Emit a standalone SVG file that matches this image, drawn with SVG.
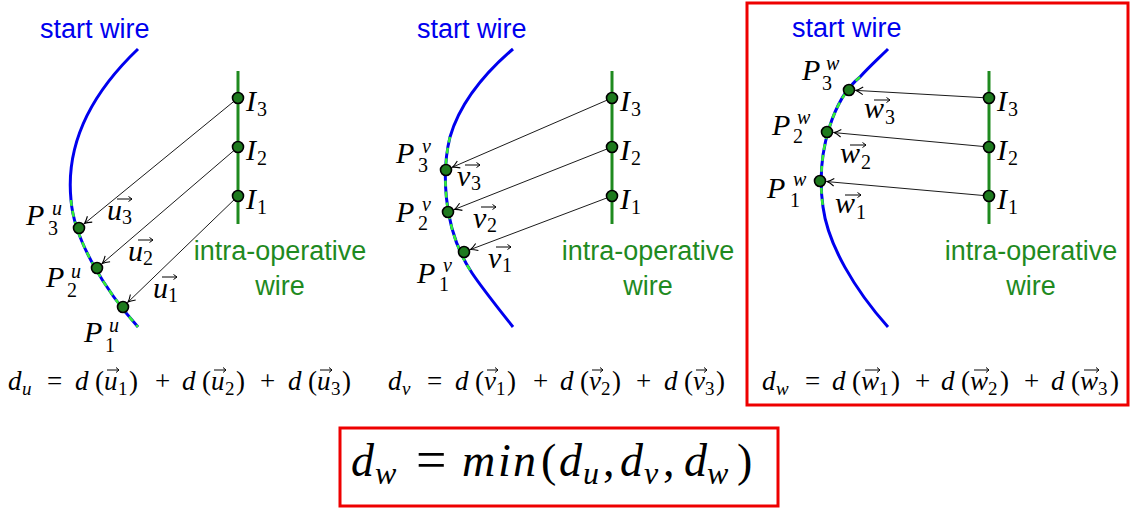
<svg xmlns="http://www.w3.org/2000/svg" width="1139" height="508" viewBox="0 0 1139 508">
<defs>
<marker id="ah" viewBox="-8 -5 10 10" refX="0" refY="0" markerWidth="10" markerHeight="10" markerUnits="userSpaceOnUse" orient="auto">
<path d="M-7,-3.8 Q-2.5,-0.7 0,0 Q-2.5,0.7 -7,3.8" fill="none" stroke="#000" stroke-width="1.1"/>
</marker>
</defs>
<style>
.sw{font-family:"Liberation Sans",Arial,sans-serif;font-size:27px;fill:#0000ee}
.iw{font-family:"Liberation Sans",Arial,sans-serif;font-size:27px;fill:#1f8a1f;text-anchor:middle}
.m{font-family:"Liberation Serif","Times New Roman",serif;font-style:italic;font-size:30px;fill:#000}
.f{font-family:"Liberation Serif","Times New Roman",serif;font-style:italic;font-size:27px;fill:#000}
.big{font-family:"Liberation Serif","Times New Roman",serif;font-style:italic;font-size:46px;fill:#000}
.r{font-style:normal}
.s{font-size:20px}
.s2{font-size:19px}
.s3{font-size:32px}
.eq{font-size:54px}
.blue{fill:none;stroke:#0000ee;stroke-width:3}
.dash{fill:none;stroke:#33ee33;stroke-width:2.6;stroke-dasharray:6 5}
.gw{stroke:#1f8a1f;stroke-width:3}
.pt{fill:#1e7a1e;stroke:#000;stroke-width:1.6}
.con{stroke:#000;stroke-width:0.9;fill:none;marker-end:url(#ah)}
.va{stroke:#000;stroke-width:1;fill:none}
.box{fill:none;stroke:#ee0000;stroke-width:3}
</style>
<rect width="1139" height="508" fill="#fff"/>

<g id="panel-u-wires">
<path class="blue" d="M138,49 C95,90 65,140 71,200 C74,240 105,290 138,327"/>
<path class="dash" d="M71,200 C74,240 105,290 138,327"/>
<line class="gw" x1="238" y1="71" x2="238" y2="224"/>
<text class="sw" x="40" y="38">start wire</text>
<text class="iw" x="280" y="260">intra-operative</text>
<text class="iw" x="280" y="295">wire</text>
</g>
<g id="panel-v-wires">
<path class="blue" d="M513,49 C485,73 460,103 450,137 C443,165 440,225 472,273 C482,288 498,308 513,327"/>
<path class="dash" d="M450,137 C443,165 440,225 472,273"/>
<line class="gw" x1="612" y1="71" x2="612" y2="224"/>
<text class="sw" x="417" y="38">start wire</text>
<text class="iw" x="648" y="260">intra-operative</text>
<text class="iw" x="648" y="295">wire</text>
</g>
<g id="panel-w-wires">
<path class="blue" d="M888,49 C879,58 869,67 860,77 C835,97 815,150 823,207 C828,245 855,290 888,327"/>
<path class="dash" d="M860,77 C835,97 815,150 823,207"/>
<line class="gw" x1="989" y1="71" x2="989" y2="224"/>
<text class="sw" x="792" y="37">start wire</text>
<text class="iw" x="1031" y="260">intra-operative</text>
<text class="iw" x="1031" y="295">wire</text>
</g>

<g id="connectors">
<line class="con" x1="238" y1="98" x2="84.4" y2="223.6"/>
<line class="con" x1="238" y1="147" x2="102.3" y2="263.4"/>
<line class="con" x1="238" y1="196" x2="128" y2="302.1"/>
<line class="con" x1="612" y1="98" x2="452.4" y2="167.2"/>
<line class="con" x1="612" y1="147" x2="454.5" y2="209.4"/>
<line class="con" x1="612" y1="196" x2="470.5" y2="249.5"/>
<line class="con" x1="989" y1="98" x2="856" y2="90.4"/>
<line class="con" x1="989" y1="147" x2="834" y2="132.6"/>
<line class="con" x1="989" y1="196" x2="827" y2="181.6"/>
</g>

<g id="u-I3"><circle class="pt" cx="238" cy="98" r="5.5"/><text class="m"><tspan x="246" y="111">I</tspan><tspan class="s r" x="257" y="116">3</tspan></text></g>
<g id="u-I2"><circle class="pt" cx="238" cy="147" r="5.5"/><text class="m"><tspan x="246" y="160">I</tspan><tspan class="s r" x="257" y="165">2</tspan></text></g>
<g id="u-I1"><circle class="pt" cx="238" cy="196" r="5.5"/><text class="m"><tspan x="246" y="209">I</tspan><tspan class="s r" x="257" y="214">1</tspan></text></g>
<g id="u-P3"><circle class="pt" cx="79" cy="228" r="5.5"/><text class="m"><tspan x="26" y="225">P</tspan><tspan class="s" x="52" y="215">u</tspan><tspan class="s r" x="48" y="235">3</tspan></text></g>
<g id="u-P2"><circle class="pt" cx="97" cy="268" r="5.5"/><text class="m"><tspan x="46" y="287">P</tspan><tspan class="s" x="71" y="278">u</tspan><tspan class="s r" x="67" y="297">2</tspan></text></g>
<g id="u-P1"><circle class="pt" cx="123" cy="307" r="5.5"/><text class="m"><tspan x="84" y="342">P</tspan><tspan class="s" x="109" y="332">u</tspan><tspan class="s r" x="105" y="352">1</tspan></text></g>
<g id="u-vec3"><text class="m"><tspan x="107" y="220">u</tspan><tspan class="s r" x="122" y="224">3</tspan></text><path class="va" d="M117,199 H132 M128.5,196.5 L132,199 L128.5,201.5"/></g>
<g id="u-vec2"><text class="m"><tspan x="128" y="261">u</tspan><tspan class="s r" x="143" y="265">2</tspan></text><path class="va" d="M138,240 H153 M149.5,237.5 L153,240 L149.5,242.5"/></g>
<g id="u-vec1"><text class="m"><tspan x="153" y="298">u</tspan><tspan class="s r" x="168" y="302">1</tspan></text><path class="va" d="M162,277 H177 M173.5,274.5 L177,277 L173.5,279.5"/></g>

<g id="v-I3"><circle class="pt" cx="612" cy="98" r="5.5"/><text class="m"><tspan x="620" y="111">I</tspan><tspan class="s r" x="631" y="116">3</tspan></text></g>
<g id="v-I2"><circle class="pt" cx="612" cy="147" r="5.5"/><text class="m"><tspan x="620" y="160">I</tspan><tspan class="s r" x="631" y="165">2</tspan></text></g>
<g id="v-I1"><circle class="pt" cx="612" cy="196" r="5.5"/><text class="m"><tspan x="620" y="209">I</tspan><tspan class="s r" x="631" y="214">1</tspan></text></g>
<g id="v-P3"><circle class="pt" cx="446" cy="170" r="5.5"/><text class="m"><tspan x="396" y="163">P</tspan><tspan class="s" x="422" y="153">v</tspan><tspan class="s r" x="418" y="172">3</tspan></text></g>
<g id="v-P2"><circle class="pt" cx="448" cy="212" r="5.5"/><text class="m"><tspan x="396" y="222">P</tspan><tspan class="s" x="422" y="211">v</tspan><tspan class="s r" x="418" y="230">2</tspan></text></g>
<g id="v-P1"><circle class="pt" cx="464" cy="252" r="5.5"/><text class="m"><tspan x="417" y="283">P</tspan><tspan class="s" x="443" y="272">v</tspan><tspan class="s r" x="439" y="291">1</tspan></text></g>
<g id="v-vec3"><text class="m"><tspan x="457" y="186">v</tspan><tspan class="s r" x="471" y="190">3</tspan></text><path class="va" d="M465,165 H480 M476.5,162.5 L480,165 L476.5,167.5"/></g>
<g id="v-vec2"><text class="m"><tspan x="473" y="228">v</tspan><tspan class="s r" x="487" y="232">2</tspan></text><path class="va" d="M481,207 H496 M492.5,204.5 L496,207 L492.5,209.5"/></g>
<g id="v-vec1"><text class="m"><tspan x="488" y="268">v</tspan><tspan class="s r" x="502" y="272">1</tspan></text><path class="va" d="M496,247 H511 M507.5,244.5 L511,247 L507.5,249.5"/></g>

<g id="w-I3"><circle class="pt" cx="989" cy="98" r="5.5"/><text class="m"><tspan x="997" y="111">I</tspan><tspan class="s r" x="1008" y="116">3</tspan></text></g>
<g id="w-I2"><circle class="pt" cx="989" cy="147" r="5.5"/><text class="m"><tspan x="997" y="160">I</tspan><tspan class="s r" x="1008" y="165">2</tspan></text></g>
<g id="w-I1"><circle class="pt" cx="989" cy="196" r="5.5"/><text class="m"><tspan x="997" y="209">I</tspan><tspan class="s r" x="1008" y="214">1</tspan></text></g>
<g id="w-P3"><circle class="pt" cx="849" cy="90" r="5.5"/><text class="m"><tspan x="802" y="80">P</tspan><tspan class="s" x="826" y="70">w</tspan><tspan class="s r" x="822" y="90">3</tspan></text></g>
<g id="w-P2"><circle class="pt" cx="827" cy="132" r="5.5"/><text class="m"><tspan x="772" y="135">P</tspan><tspan class="s" x="797" y="124">w</tspan><tspan class="s r" x="793" y="143">2</tspan></text></g>
<g id="w-P1"><circle class="pt" cx="820" cy="181" r="5.5"/><text class="m"><tspan x="767" y="198">P</tspan><tspan class="s" x="793" y="186">w</tspan><tspan class="s r" x="790" y="207">1</tspan></text></g>
<g id="w-vec3"><text class="m"><tspan x="864" y="118">w</tspan><tspan class="s r" x="885" y="124">3</tspan></text><path class="va" d="M874,100 H890 M886.5,97.5 L890,100 L886.5,102.5"/></g>
<g id="w-vec2"><text class="m"><tspan x="840" y="163">w</tspan><tspan class="s r" x="861" y="169">2</tspan></text><path class="va" d="M850,145 H866 M862.5,142.5 L866,145 L862.5,147.5"/></g>
<g id="w-vec1"><text class="m"><tspan x="835" y="213">w</tspan><tspan class="s r" x="856" y="219">1</tspan></text><path class="va" d="M845,195 H861 M857.5,192.5 L861,195 L857.5,197.5"/></g>

<g id="formula-u">
<text class="f"><tspan x="8" y="390">d</tspan><tspan class="s2" x="22" y="395">u</tspan><tspan class="r" x="47" y="390">=</tspan><tspan x="75" y="390">d</tspan><tspan class="r" x="95" y="390">(</tspan><tspan x="104" y="390">u</tspan><tspan class="s2 r" x="118" y="395">1</tspan><tspan class="r" x="129" y="390">)</tspan><tspan class="r" x="155" y="390">+</tspan><tspan x="182" y="390">d</tspan><tspan class="r" x="202" y="390">(</tspan><tspan x="211" y="390">u</tspan><tspan class="s2 r" x="225" y="395">2</tspan><tspan class="r" x="236" y="390">)</tspan><tspan class="r" x="260" y="390">+</tspan><tspan x="288" y="390">d</tspan><tspan class="r" x="308" y="390">(</tspan><tspan x="317" y="390">u</tspan><tspan class="s2 r" x="331" y="395">3</tspan><tspan class="r" x="342" y="390">)</tspan></text>
<path class="va" d="M107,370 H119 M116,367.5 L119,370 L116,372.5 M214,370 H226 M223,367.5 L226,370 L223,372.5 M320,370 H332 M329,367.5 L332,370 L329,372.5"/>
</g>
<g id="formula-v">
<text class="f"><tspan x="388" y="390">d</tspan><tspan class="s2" x="402" y="395">v</tspan><tspan class="r" x="427" y="390">=</tspan><tspan x="455" y="390">d</tspan><tspan class="r" x="475" y="390">(</tspan><tspan x="484" y="390">v</tspan><tspan class="s2 r" x="496" y="395">1</tspan><tspan class="r" x="507" y="390">)</tspan><tspan class="r" x="533" y="390">+</tspan><tspan x="560" y="390">d</tspan><tspan class="r" x="580" y="390">(</tspan><tspan x="589" y="390">v</tspan><tspan class="s2 r" x="601" y="395">2</tspan><tspan class="r" x="612" y="390">)</tspan><tspan class="r" x="636" y="390">+</tspan><tspan x="664" y="390">d</tspan><tspan class="r" x="684" y="390">(</tspan><tspan x="693" y="390">v</tspan><tspan class="s2 r" x="705" y="395">3</tspan><tspan class="r" x="716" y="390">)</tspan></text>
<path class="va" d="M487,370 H498 M495,367.5 L498,370 L495,372.5 M592,370 H603 M600,367.5 L603,370 L600,372.5 M696,370 H707 M704,367.5 L707,370 L704,372.5"/>
</g>
<g id="formula-w">
<text class="f"><tspan x="762" y="390">d</tspan><tspan class="s2" x="776" y="395">w</tspan><tspan class="r" x="805" y="390">=</tspan><tspan x="832" y="390">d</tspan><tspan class="r" x="852" y="390">(</tspan><tspan x="861" y="390">w</tspan><tspan class="s2 r" x="879" y="395">1</tspan><tspan class="r" x="891" y="390">)</tspan><tspan class="r" x="915" y="390">+</tspan><tspan x="941" y="390">d</tspan><tspan class="r" x="961" y="390">(</tspan><tspan x="970" y="390">w</tspan><tspan class="s2 r" x="988" y="395">2</tspan><tspan class="r" x="1000" y="390">)</tspan><tspan class="r" x="1024" y="390">+</tspan><tspan x="1051" y="390">d</tspan><tspan class="r" x="1071" y="390">(</tspan><tspan x="1080" y="390">w</tspan><tspan class="s2 r" x="1098" y="395">3</tspan><tspan class="r" x="1110" y="390">)</tspan></text>
<path class="va" d="M865,370 H880 M877,367.5 L880,370 L877,372.5 M974,370 H989 M986,367.5 L989,370 L986,372.5 M1084,370 H1099 M1096,367.5 L1099,370 L1096,372.5"/>
</g>
<rect id="w-highlight" class="box" x="747" y="3" width="381" height="402"/>

<g id="result">
<rect class="box" x="340" y="428" width="438" height="78"/>
<text class="big"><tspan x="351" y="476">d</tspan><tspan class="s3" x="375" y="484">w</tspan><tspan class="r eq" x="416" y="478">=</tspan><tspan x="462" y="476">m</tspan><tspan x="498" y="476">i</tspan><tspan x="513" y="476">n</tspan><tspan class="r" x="541" y="476">(</tspan><tspan x="559" y="476">d</tspan><tspan class="s3" x="583" y="484">u</tspan><tspan class="r" x="603" y="476">,</tspan><tspan x="620" y="476">d</tspan><tspan class="s3" x="644" y="484">v</tspan><tspan class="r" x="663" y="476">,</tspan><tspan x="684" y="476">d</tspan><tspan class="s3" x="707" y="484">w</tspan><tspan class="r" x="737" y="476">)</tspan></text>
</g>
</svg>
